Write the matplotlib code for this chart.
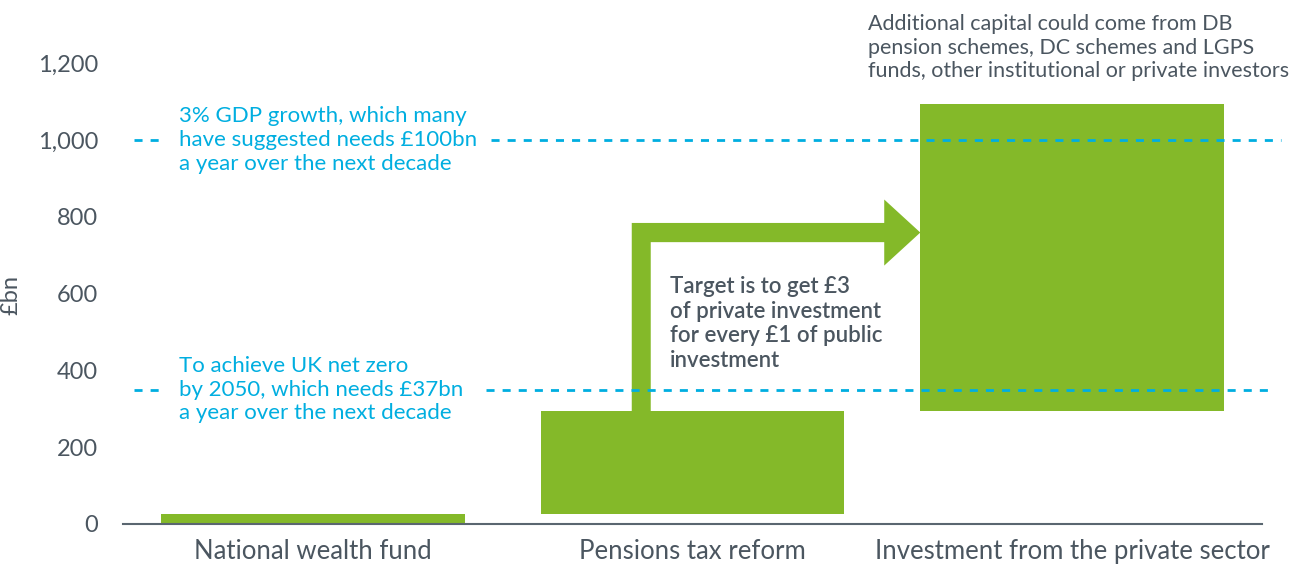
import matplotlib.pyplot as plt
from matplotlib.patches import Polygon

categories = ["National wealth fund", "Pensions tax reform", "Investment from the private sector"]
bar_bottoms = [0, 27, 294]
bar_heights = [27, 267, 800]
y_ticks = [0, 200, 400, 600, 800, 1000, 1200]
y_tick_labels = ["0", "200", "400", "600", "800", "1,000", "1,200"]
ref_lines = [1000, 350]
ref_texts = ["3% GDP growth, which many\nhave suggested needs £100bn\na year over the next decade",
             "To achieve UK net zero\nby 2050, which needs £37bn\na year over the next decade"]
ref_gap_end = [0.47, 0.455]
ref_line_end = [2.55, 2.53]

GREEN = "#84b929"
BLUE = "#00aee0"
GREY = "#4b5660"

plt.rcParams['font.family'] = ['Lato', 'DejaVu Sans']

fig = plt.figure(figsize=(13, 5.68), dpi=100)
ax = fig.add_axes([123 / 1300, 44 / 568, (1262 - 123) / 1300, 480 / 568])

x = list(range(len(categories)))
ax.bar(x, bar_heights, bottom=bar_bottoms, width=0.8, color=GREEN, zorder=2)

# elbow arrow from the pensions bar to the private sector bar
ax_l, ax_r = 0.84, 0.89
ay, shaft = 759, 50
head_x, head_h, tip_x = 1.505, 172, 1.6
pts = [(ax_l, bar_bottoms[1] + bar_heights[1]), (ax_l, ay + shaft / 2), (head_x, ay + shaft / 2),
       (head_x, ay + head_h / 2), (tip_x, ay), (head_x, ay - head_h / 2), (head_x, ay - shaft / 2),
       (ax_r, ay - shaft / 2), (ax_r, bar_bottoms[1] + bar_heights[1])]
ax.add_patch(Polygon(pts, closed=True, color=GREEN, lw=0, zorder=2))

# reference lines with a gap for their labels
for yv, txt, gap, end in zip(ref_lines, ref_texts, ref_gap_end, ref_line_end):
    kw = dict(color=BLUE, lw=2.0, dashes=(2.9, 2.9), clip_on=False, zorder=3)
    ax.plot([-0.47, -0.405], [yv, yv], **kw)
    ax.plot([gap, end], [yv, yv], **kw)
    ax.text(-0.353, yv, txt, color=BLUE, fontsize=16, ha='left', va='center', linespacing=1.22)

ax.text(0.94, 522, "Target is to get £3\nof private investment\nfor every £1 of public\ninvestment",
        color=GREY, fontsize=16, fontweight='semibold', ha='left', va='center', linespacing=1.22)
ax.text(1.463, 1240, "Additional capital could come from DB\npension schemes, DC schemes and LGPS\nfunds, other institutional or private investors",
        color=GREY, fontsize=15.5, ha='left', va='center', linespacing=1.22)

ax.set_xlim(-0.5, 2.5)
ax.set_ylim(0, 1250)
ax.set_xticks(x)
ax.set_xticklabels(categories, fontsize=18.5, color=GREY)
ax.set_yticks(y_ticks)
ax.set_yticklabels(y_tick_labels, fontsize=17, color=GREY)
ax.tick_params(length=0)
ax.tick_params(axis='y', pad=18)
ax.tick_params(axis='x', pad=11)
ax.set_ylabel("£bn", fontsize=17, color=GREY)
ax.yaxis.set_label_coords(-0.089, 0.477)
for s in ["top", "right", "left"]:
    ax.spines[s].set_visible(False)
ax.spines["bottom"].set_color("#5a6670")
ax.spines["bottom"].set_linewidth(1.5)

fig.savefig("out.png", dpi=100)
